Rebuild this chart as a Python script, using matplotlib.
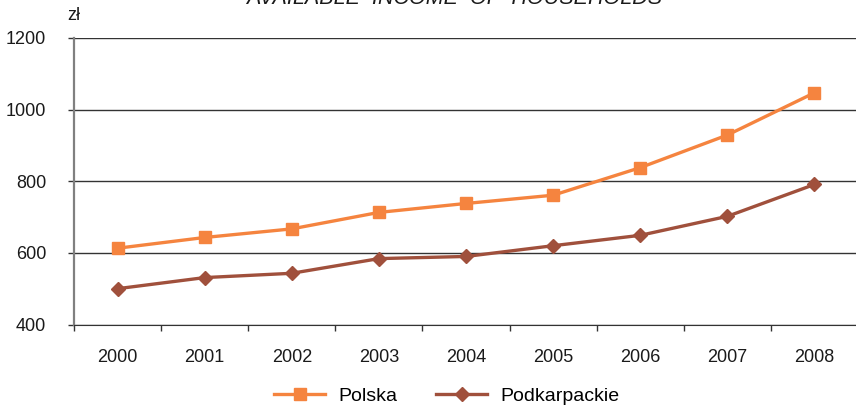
import numpy as np
import matplotlib.pyplot as plt

years = ['2000', '2001', '2002', '2003', '2004', '2005', '2006', '2007', '2008']
polska = [613, 643, 667, 713, 738, 761, 838, 929, 1047]
podkarpackie = [500, 531, 543, 584, 590, 620, 649, 702, 791]
y_ticks = [400, 600, 800, 1000, 1200]

plt.rcParams['font.family'] = ['Liberation Sans', 'DejaVu Sans']

fig = plt.figure(figsize=(8.56, 4.07), dpi=100)
ax = fig.add_axes([74 / 856, 82.5 / 407, 784 / 856, 286.5 / 407])

x = np.arange(len(years))
ax.plot(x, polska, color='#F5843F', lw=2.4, marker='s', markersize=8,
        label='Polska')
ax.plot(x, podkarpackie, color='#A0503C', lw=2.4, marker='D', markersize=7.5,
        label='Podkarpackie')

ax.set_xlim(-0.5, len(years) - 0.5)
ax.set_ylim(400, 1200)
ax.set_yticks(y_ticks)
ax.set_xticks(x)
ax.set_xticklabels(years)
ax.set_xticks(np.arange(len(years) + 1) - 0.5, minor=True)

ax.grid(axis='y', color='#333333', lw=1)
ax.set_axisbelow(True)
for s in ['top', 'right']:
    ax.spines[s].set_visible(False)
ax.spines['left'].set_color('#808080')
ax.spines['left'].set_linewidth(1.6)
ax.spines['bottom'].set_color('#333333')

ax.tick_params(axis='y', length=4, width=1, color='#333333', pad=16,
               labelsize=13, labelcolor='#1a1a1a')
ax.tick_params(axis='x', which='major', length=0, pad=18,
               labelsize=13, labelcolor='#1a1a1a')
ax.tick_params(axis='x', which='minor', length=4, width=1, color='#333333')

fig.text(67 / 856, 1 - 15 / 407, 'zł', fontsize=13, va='center',
         color='#1a1a1a')
fig.text(454 / 856, 1 - 4 / 407, 'AVAILABLE  INCOME  OF  HOUSEHOLDS',
         fontsize=15.5, style='italic', ha='center', va='baseline',
         color='#1a1a1a')

fig.legend(loc='center', bbox_to_anchor=(447 / 856, 1 - 396 / 407), ncol=2,
           frameon=False, fontsize=14, handlelength=2.6, columnspacing=2.0,
           handletextpad=0.7)

fig.savefig('out.png', dpi=100)
